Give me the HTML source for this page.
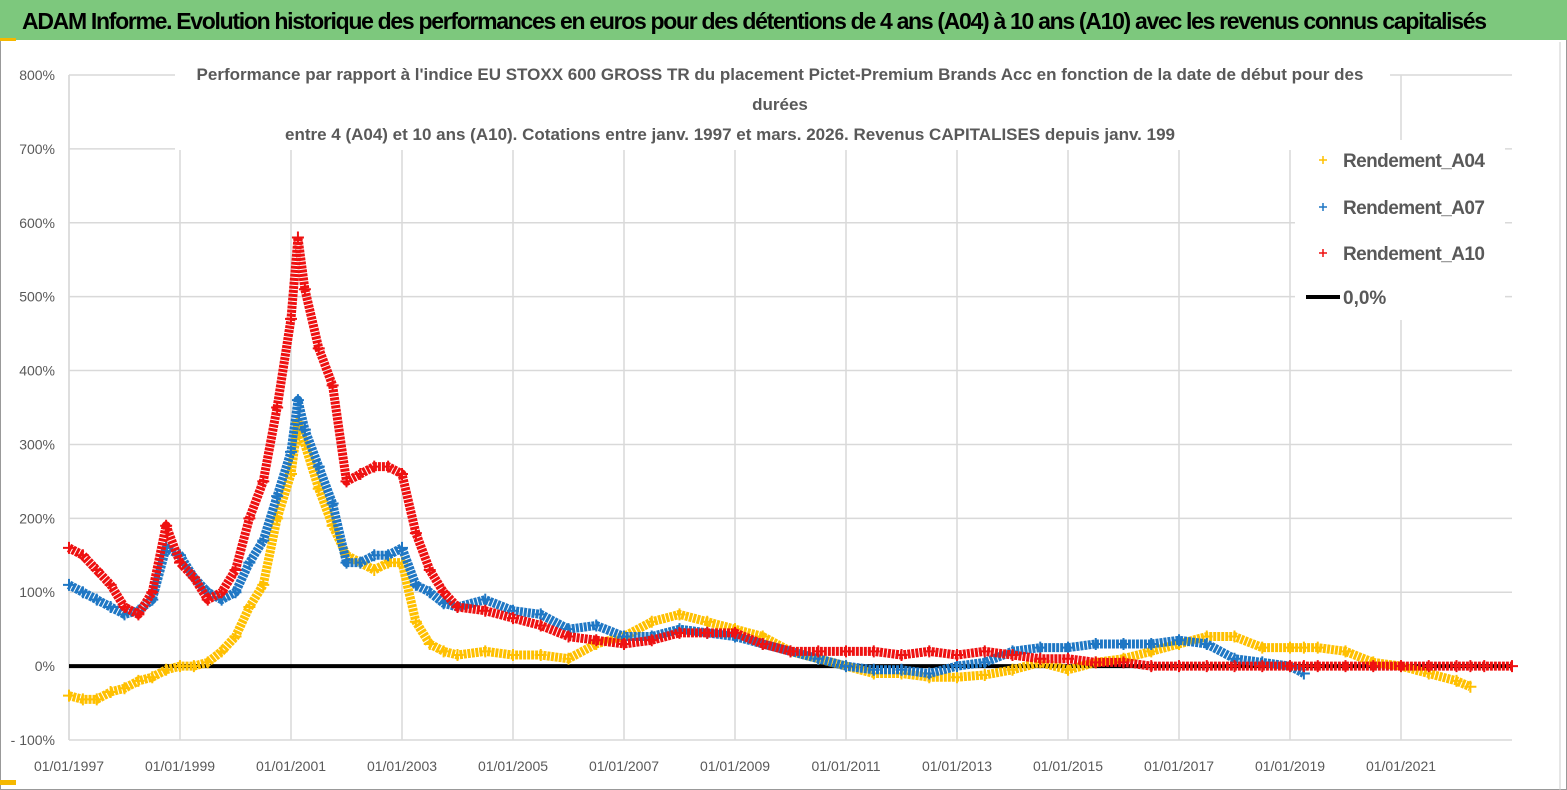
<!DOCTYPE html>
<html><head><meta charset="utf-8"><style>
body{margin:0;background:#fff;}
#wrap{position:relative;width:1567px;height:790px;overflow:hidden;background:#fff;font-family:"Liberation Sans",sans-serif;}
</style></head><body>
<div id="wrap">
<svg id="chart" width="1567" height="790" xmlns="http://www.w3.org/2000/svg"></svg>
</div>
<script>
const years = [1997,1997.25,1997.5,1997.75,1998,1998.25,1998.5,1998.75,1999,1999.25,1999.5,1999.75,2000,2000.25,2000.5,2000.75,2001,2001.125,2001.25,2001.5,2001.75,2002,2002.25,2002.5,2002.75,2003,2003.25,2003.5,2003.75,2004,2004.5,2005,2005.5,2006,2006.5,2007,2007.5,2008,2008.5,2009,2009.5,2010,2010.5,2011,2011.5,2012,2012.5,2013,2013.5,2014,2014.5,2015,2015.5,2016,2016.5,2017,2017.5,2018,2018.5,2019,2019.25,2019.5,2020,2020.5,2021,2021.5,2022,2022.25,2022.5,2023];
const a04 = [-40,-45,-45,-35,-30,-20,-15,-5,0,0,5,20,40,80,110,200,260,330,300,240,190,150,140,130,140,140,60,30,20,15,20,15,15,10,30,40,60,70,60,50,40,20,10,0,-10,-10,-15,-15,-12,-5,5,-5,5,10,20,30,40,40,25,25,25,25,20,5,0,-10,-20,-28,null,null];
const a07 = [110,100,90,80,70,75,90,160,150,120,100,90,100,140,170,230,290,360,320,270,220,140,140,150,150,160,110,100,85,80,90,75,70,50,55,40,40,50,45,40,30,20,10,0,-5,-5,-10,0,5,20,25,25,30,30,30,35,30,10,5,0,-10,null,null,null,null,null,null,null,null,null];
const a10 = [160,150,130,110,80,70,100,190,140,120,90,100,130,200,250,350,470,580,510,430,380,250,260,270,270,260,180,130,100,80,75,65,55,40,35,30,35,45,45,45,30,20,20,20,20,15,20,15,20,15,10,10,5,5,0,0,0,0,0,0,0,0,0,0,0,0,0,0,0,0];
const yTicks = [800,700,600,500,400,300,200,100,0,-100];
const xTicks = [1997,1999,2001,2003,2005,2007,2009,2011,2013,2015,2017,2019,2021];

const NS="http://www.w3.org/2000/svg";
const svg=document.getElementById('chart');
const X0=69,X1=1512,Y0=740,Y1=75;
const xs=y=>X0+(y-1997)*55.5;
const ys=v=>Y0-(v+100)/900*(Y0-Y1);
function mk(t,a,parent){const e=document.createElementNS(NS,t);for(const k in a)e.setAttribute(k,a[k]);(parent||svg).appendChild(e);return e;}

let e=mk('rect',{x:0.5,y:0.5,width:1566,height:789,fill:'#fff',stroke:'#999'});

e=mk('rect',{x:0,y:0,width:1567,height:40,fill:'#7dc87d'});

mk('rect',{x:0,y:38,width:16,height:3,fill:'#f5b800'});
mk('rect',{x:0,y:780,width:16,height:5,fill:'#f5b800'});
mk('line',{x1:1560,y1:42,x2:1560,y2:790,stroke:'#ccc'});
e=mk('text',{x:22,y:29,'font-size':23,'font-weight':'bold',fill:'#000'});
e.textContent="ADAM Informe. Evolution historique des performances en euros pour des détentions de 4 ans (A04) à 10 ans (A10) avec les revenus connus capitalisés";

e.setAttribute('textLength','1465');

yTicks.forEach(v=>{
  const l=mk('line',{x1:X0,y1:ys(v),x2:X1,y2:ys(v),stroke:'#d9d9d9','stroke-width':1.5});
  
  const t=mk('text',{x:55,y:ys(v)+5,'font-size':14,fill:'#595959','text-anchor':'end'});
  t.textContent=(v<0?'- '+(-v):v)+'%';
  
});
xTicks.forEach(y=>{
  const l=mk('line',{x1:xs(y),y1:Y1,x2:xs(y),y2:Y0,stroke:'#d9d9d9','stroke-width':1.5});
  
  const t=mk('text',{x:xs(y),y:771,'font-size':14,fill:'#595959','text-anchor':'middle'});
  t.textContent='01/01/'+y;
  
});
mk('line',{x1:X0,y1:Y1,x2:X0,y2:Y0,stroke:'#d9d9d9','stroke-width':1.5});

mk('rect',{x:175,y:62,width:1215,height:88,fill:'#fff'});
const titles=["Performance par rapport à l'indice EU STOXX 600 GROSS TR  du placement Pictet-Premium Brands Acc en fonction de la date de début pour des","durées","entre 4 (A04) et 10 ans (A10). Cotations entre janv. 1997 et mars. 2026. Revenus CAPITALISES depuis janv. 199"];
[[780,80],[780,110],[730,140]].forEach((p,i)=>{
  const t=mk('text',{x:p[0],y:p[1],'font-size':17,'font-weight':'bold',fill:'#595959','text-anchor':'middle'});
  t.textContent=titles[i];
  
});

function series(arr,color,name){
  const g=mk('g',{});
  
  let seg=[];const segs=[];
  arr.forEach((v,i)=>{if(v===null){if(seg.length)segs.push(seg);seg=[];}else seg.push([xs(years[i]),ys(v)]);});
  if(seg.length)segs.push(seg);
  segs.forEach(s=>{
    const p=mk('polyline',{points:s.map(q=>q.join(',')).join(' '),fill:'none',stroke:color,'stroke-width':9,'stroke-dasharray':'3 1','stroke-linejoin':'round'},g);
    
  });
  arr.forEach((v,i)=>{
    if(v===null)return;
    const x=xs(years[i]),y=ys(v);
    const m=mk('path',{d:`M${x-6},${y}H${x+6}M${x},${y-6}V${y+6}`,stroke:color,'stroke-width':2},g);
    
  });
}
e=mk('line',{x1:X0,y1:ys(0),x2:X1,y2:ys(0),stroke:'#000','stroke-width':4});

series(a04,'#ffc000','series-a04');
series(a07,'#1f77c4','series-a07');
series(a10,'#ee1111','series-a10');

mk('rect',{x:1295,y:140,width:210,height:180,fill:'#fff'});
const legItems=[['Rendement_A04','#ffc000',160],['Rendement_A07','#1f77c4',207],['Rendement_A10','#ee1111',253]];
legItems.forEach(it=>{
  const g=mk('g',{});
  
  mk('path',{d:`M${1319},${it[2]}H${1327}M${1323},${it[2]-4}V${it[2]+4}`,stroke:it[1],'stroke-width':1.5},g);
  const t=mk('text',{x:1343,y:it[2]+7,'font-size':19,'font-weight':'bold',fill:'#595959',textLength:142},g);
  t.textContent=it[0];
});
const g0=mk('g',{});

mk('line',{x1:1306,y1:297,x2:1340,y2:297,stroke:'#000','stroke-width':4},g0);
const t0=mk('text',{x:1343,y:304,'font-size':19,'font-weight':'bold',fill:'#595959'},g0);
t0.textContent='0,0%';
</script>
</body></html>
